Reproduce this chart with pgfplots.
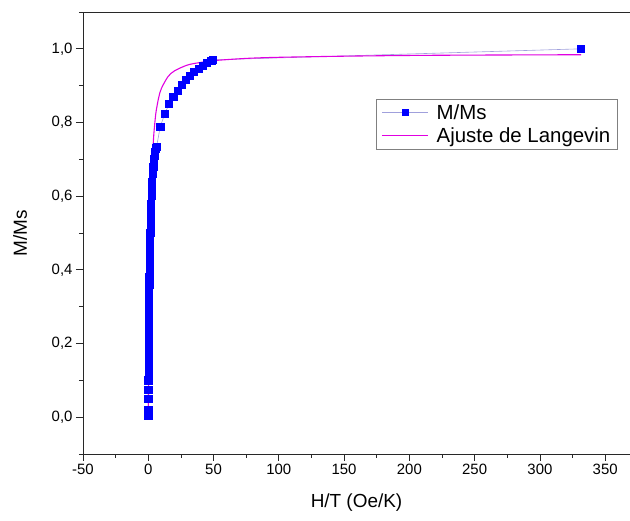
\documentclass[border=0pt]{standalone}
\usepackage{fontspec}
\setmainfont{Liberation Sans}
\usepackage{pgfplots}
\pgfplotsset{compat=1.18}
\definecolor{datablue}{RGB}{0,0,255}
\definecolor{datalink}{RGB}{160,160,220}
\definecolor{fitmag}{RGB}{225,0,225}
\definecolor{axgray}{RGB}{40,40,40}

\begin{document}
\begin{tikzpicture}
\begin{axis}[
  scale only axis,
  width=547bp, height=442bp,
  xmin=-50, xmax=369,
  ymin=-0.1, ymax=1.1,
  axis lines=left,
  axis line style={-, axgray, line width=0.9pt},
  every tick/.style={axgray, line width=0.8pt},
  tick align=outside,
  major tick length=7bp,
  minor tick length=4bp,
  xtick={-50,0,...,350},
  minor xtick={-25,25,...,375},
  ytick={0,0.2,...,1.0},
  minor ytick={-0.1,0.1,...,1.1},
  /pgf/number format/assume math mode=true,
  yticklabel style={/pgf/number format/.cd, use comma, fixed, fixed zerofill, precision=1},
  ticklabel style={font=\fontsize{15}{18}\selectfont},
  xlabel={H/T (Oe/K)},
  ylabel={M/Ms},
  label style={font=\fontsize{19}{22}\selectfont},
  xlabel style={at={(axis description cs:0.5,-0.111)}, anchor=center},
  ylabel style={at={(axis description cs:-0.115,0.5)}, anchor=center},
  legend style={at={(axis description cs:0.536,0.803)}, anchor=north west,
    draw=gray, font=\fontsize{20.5}{22}\selectfont,
    inner xsep=5pt, inner ysep=3pt, row sep=3pt, column sep=6pt},
  legend cell align=left,
]
\addplot[color=datalink, line width=0.6pt, mark=square*,
  mark options={datablue, draw=datablue, fill=datablue}, mark size=3.6pt,
  legend image code/.code={
    \draw[datalink, line width=0.6pt] (0bp,0bp) -- (46bp,0bp);
    \fill[datablue] (20bp,-3bp) rectangle (26bp,3bp);}]
  coordinates {
  (0,0.005) (0,0.02) (0,0.05) (0,0.075) (0.05,0.10) (0.1,0.12) (0.15,0.14)
  (0.2,0.16) (0.25,0.18) (0.3,0.20) (0.35,0.22) (0.4,0.24) (0.45,0.26)
  (0.5,0.28) (0.6,0.30) (0.65,0.32) (0.7,0.34) (0.8,0.36) (0.85,0.38)
  (0.95,0.40) (1.05,0.42) (1.15,0.44) (1.25,0.46) (1.35,0.48) (1.5,0.50)
  (1.65,0.52) (1.8,0.54) (2.0,0.56) (2.2,0.58) (2.45,0.60) (2.7,0.62)
  (3.0,0.64) (3.4,0.66) (3.8,0.68) (4.3,0.70) (4.7,0.71) (5.2,0.72)
  (5.8,0.73) (6.4,0.735)
  (9.2,0.789) (12.7,0.824) (16.0,0.851) (19.2,0.869) (22.3,0.887)
  (25.6,0.902) (28.8,0.916) (31.9,0.927) (35.1,0.938) (38.5,0.946)
  (41.7,0.953) (45.1,0.961) (48.3,0.967) (49.6,0.970)
  (331.5,1.000)
  };
\addlegendentry{M/Ms}
\addplot[color=fitmag, line width=1.1pt, no markers, smooth,
  legend image code/.code={
    \draw[fitmag, line width=1.3pt] (0bp,0bp) -- (46bp,0bp);}]
  coordinates {
  (0,0) (0.25,0.086) (0.5,0.170) (0.75,0.250) (1,0.323) (1.5,0.450)
  (2,0.549) (3,0.679) (4,0.755) (5,0.798) (6,0.830) (8,0.868) (10,0.892)
  (15,0.924) (20,0.940) (30,0.956) (40,0.963) (50,0.968) (75,0.974)
  (100,0.977) (150,0.980) (200,0.982) (250,0.983) (331.5,0.984)
  };
\addlegendentry{Ajuste de Langevin}
\draw[axgray, line width=0.9pt] (rel axis cs:0,1) -- (rel axis cs:1,1);
\end{axis}
\pgfresetboundingbox
\useasboundingbox (-83bp,-67bp) rectangle (547bp,454bp);
\end{tikzpicture}
\end{document}
